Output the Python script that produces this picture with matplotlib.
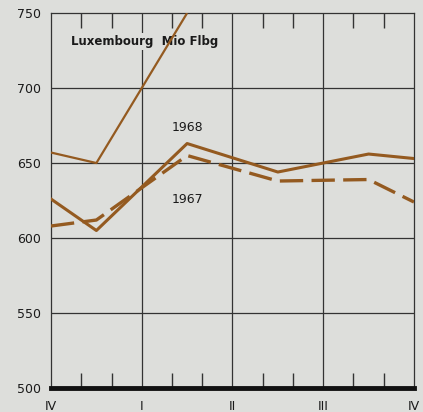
import matplotlib
matplotlib.use("Agg")
import matplotlib.pyplot as plt
from matplotlib.ticker import FixedLocator

# Data (x in months from start of quarter IV of previous year)
quarter_labels = ["IV", "I", "II", "III", "IV"]
quarter_pos = [0, 3, 6, 9, 12]
month_pos = [1, 2, 4, 5, 7, 8, 10, 11]

x_1968 = [0, 1.5, 4.5]
v_1968 = [657, 650, 750]

x_1967 = [0, 1.5, 4.5, 7.5, 10.5, 12]
v_1967 = [626, 605, 663, 644, 656, 653]

x_1966 = [0, 1.5, 4.5, 7.5, 10.5, 12]
v_1966 = [608, 612, 655, 638, 639, 624]

bg = "#dddedb"
brown = "#945a20"
grid_c = "#333333"

fig = plt.figure(figsize=(4.23, 4.12), dpi=100, facecolor=bg)
ax = fig.add_axes([0.1206, 0.0583, 0.858, 0.910], facecolor=bg)

ax.set_xlim(0, 12)
ax.set_ylim(500, 750)

ax.plot(x_1968, v_1968, color=brown, lw=1.6, solid_capstyle="butt", clip_on=True, zorder=3)
ax.plot(x_1967, v_1967, color=brown, lw=2.2, zorder=3)
ax.plot(x_1966, v_1966, color=brown, lw=2.4, dashes=(7, 2.5), zorder=3)

# grid
for q in quarter_pos[1:-1]:
    ax.axvline(q, color=grid_c, lw=0.9, zorder=1)
for y in [550, 600, 650, 700]:
    ax.axhline(y, color=grid_c, lw=0.9, zorder=1)

ax.set_yticks([500, 550, 600, 650, 700, 750])
ax.set_yticklabels(["500", "550", "600", "650", "700", "750"])
ax.tick_params(axis="y", length=0, pad=7, labelsize=9, labelcolor="#1a1a1a")

ax.set_xticks(quarter_pos)
ax.set_xticklabels(quarter_labels)
ax.xaxis.set_minor_locator(FixedLocator(month_pos))
ax.tick_params(axis="x", which="major", length=0, pad=9, labelsize=9, labelcolor="#1a1a1a")
ax.tick_params(axis="x", which="minor", direction="in", length=11, width=1.0,
               color=grid_c, top=True, bottom=True)

for s in ["left", "right", "top"]:
    ax.spines[s].set_color(grid_c)
    ax.spines[s].set_linewidth(0.9)
ax.spines["bottom"].set_color("#111111")
ax.spines["bottom"].set_linewidth(3.5)

ax.text(0.65, 731, "Luxembourg  Mio Flbg", fontsize=8.5, fontweight="bold",
        color="#1a1a1a", va="center", ha="left", zorder=2,
        bbox=dict(facecolor=bg, edgecolor="none", pad=1.5))
ax.text(4.5, 674, "1968", fontsize=9, color="#1a1a1a", ha="center", va="center")
ax.text(4.5, 626, "1967", fontsize=9, color="#1a1a1a", ha="center", va="center")

fig.savefig("out.png", dpi=100, facecolor=bg)
